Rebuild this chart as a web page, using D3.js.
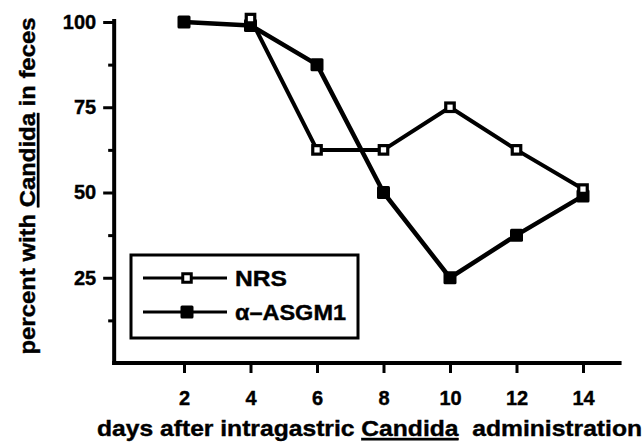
<!DOCTYPE html>
<html>
<head>
<meta charset="utf-8">
<script src="https://cdn.jsdelivr.net/npm/d3@7/dist/d3.min.js"></script>
<style>
  html, body { margin: 0; padding: 0; background: #fff; }
  svg { display: block; }
  text { font-family: "Liberation Sans", Arial, Helvetica, sans-serif; font-weight: bold; fill: #000; }
</style>
</head>
<body>
<svg id="chart" width="644" height="442"></svg>
<script>
// ---- data ----
const nrsDays   = [4, 6, 8, 10, 12, 14];
const nrsValues = [101, 62.5, 62.5, 75, 62.5, 51];
const asgmDays   = [2, 4, 6, 8, 10, 12, 14];
const asgmValues = [100, 99, 87.5, 50, 25, 37.5, 49];
const xTickValues = [2, 4, 6, 8, 10, 12, 14];
const yMajorTicks = [25, 50, 75, 100];
const yMinorTicks = [12.5, 37.5, 62.5, 87.5];
const seriesNames = ["NRS", "\u03B1\u2013ASGM1"];

const svg = d3.select("#chart");
const x = d3.scaleLinear().domain([0, 14]).range([117.5, 583]);
const y = d3.scaleLinear().domain([0, 100]).range([363, 22]);

// axes
const yMajor = svg.append("g").attr("transform", `translate(${x(-0.1)},0)`)
  .call(d3.axisLeft(y).tickValues(yMajorTicks).tickSize(11).tickPadding(7).tickFormat(d3.format("d")));
const yMinor = svg.append("g").attr("transform", `translate(${x(-0.1)},0)`)
  .call(d3.axisLeft(y).tickValues(yMinorTicks).tickSize(6).tickFormat(""));
const xAx = svg.append("g").attr("transform", `translate(0,${y(0)})`)
  .call(d3.axisBottom(x).tickValues(xTickValues).tickSize(10).tickFormat(d3.format("d")));

[yMajor, yMinor, xAx].forEach(g => {
  g.select(".domain").remove();
  g.selectAll(".tick line").attr("stroke", "#000").attr("stroke-width", 3);
  g.selectAll(".tick text").style("font-size", "20px").style("font-family", "'Liberation Sans', Arial, sans-serif")
    .style("font-weight", "bold").attr("fill", "#000").attr("stroke", "#000").attr("stroke-width", 0.4);
});
xAx.selectAll(".tick text").attr("y", 42).attr("dy", 0);

// axis lines
svg.append("line").attr("x1", x(-0.1)).attr("x2", x(-0.1)).attr("y1", y(100) - 1).attr("y2", y(0))
  .attr("stroke", "#000").attr("stroke-width", 4).attr("stroke-linecap", "square");
svg.append("line").attr("x1", x(-0.1)).attr("x2", x(15.1)).attr("y1", y(0)).attr("y2", y(0))
  .attr("stroke", "#000").attr("stroke-width", 4).attr("stroke-linecap", "square");

// lines
const line = d3.line().x(d => x(d[0])).y(d => y(d[1]));
const nrs = nrsDays.map((d, i) => [d, nrsValues[i]]);
const asgm = asgmDays.map((d, i) => [d, asgmValues[i]]);
svg.append("path").datum(nrs).attr("d", line).attr("fill", "none").attr("stroke", "#000").attr("stroke-width", 4).attr("stroke-linejoin", "round");
svg.append("path").datum(asgm).attr("d", line).attr("fill", "none").attr("stroke", "#000").attr("stroke-width", 4.5).attr("stroke-linejoin", "round");

// markers
const fs = 13;
svg.selectAll(".mf").data(asgm).enter().append("rect")
  .attr("x", d => x(d[0]) - fs / 2).attr("y", d => y(d[1]) - fs / 2)
  .attr("width", fs).attr("height", fs).attr("rx", 1.5).attr("fill", "#000");
const os = 8.5;
svg.selectAll(".mo").data(nrs).enter().append("rect")
  .attr("x", d => x(d[0]) - os / 2).attr("y", d => y(d[1]) - os / 2)
  .attr("width", os).attr("height", os).attr("fill", "#fff").attr("stroke", "#000").attr("stroke-width", 3.2);

// legend
svg.append("rect").attr("x", 131).attr("y", 255).attr("width", 227).attr("height", 83)
  .attr("fill", "#fff").attr("stroke", "#000").attr("stroke-width", 3);
const legY = [278, 312];
const legW = [52, 111];
legY.forEach((ly, i) => {
  svg.append("line").attr("x1", 143).attr("x2", 227).attr("y1", ly).attr("y2", ly)
    .attr("stroke", "#000").attr("stroke-width", 3);
  if (i === 0) {
    svg.append("rect").attr("x", 187 - os / 2).attr("y", ly - os / 2).attr("width", os).attr("height", os)
      .attr("fill", "#fff").attr("stroke", "#000").attr("stroke-width", 3);
  } else {
    svg.append("rect").attr("x", 187 - fs / 2).attr("y", ly - fs / 2).attr("width", fs).attr("height", fs)
      .attr("rx", 1.5).attr("fill", "#000");
  }
  svg.append("text").attr("x", 235).attr("y", ly + 8).style("font-size", "22px")
    .attr("textLength", legW[i]).attr("lengthAdjust", "spacingAndGlyphs")
    .attr("stroke", "#000").attr("stroke-width", 0.4).text(seriesNames[i]);
});

// axis titles
const xt = svg.append("text").attr("x", 369.5).attr("y", 436).attr("text-anchor", "middle").style("font-size", "22px")
  .attr("textLength", 545).attr("lengthAdjust", "spacingAndGlyphs").attr("stroke", "#000").attr("stroke-width", 0.4);
xt.append("tspan").text("days after intragastric ");
xt.append("tspan").style("text-decoration", "underline").text("Candida");
xt.append("tspan").text("\u00A0 administration");

const yt = svg.append("text").attr("transform", "translate(35,186) rotate(-90)").attr("text-anchor", "middle").style("font-size", "22px")
  .attr("textLength", 337).attr("lengthAdjust", "spacingAndGlyphs").attr("stroke", "#000").attr("stroke-width", 0.4);
yt.append("tspan").text("percent with ");
yt.append("tspan").style("text-decoration", "underline").text("Candida");
yt.append("tspan").text(" in feces");
</script>
</body>
</html>
